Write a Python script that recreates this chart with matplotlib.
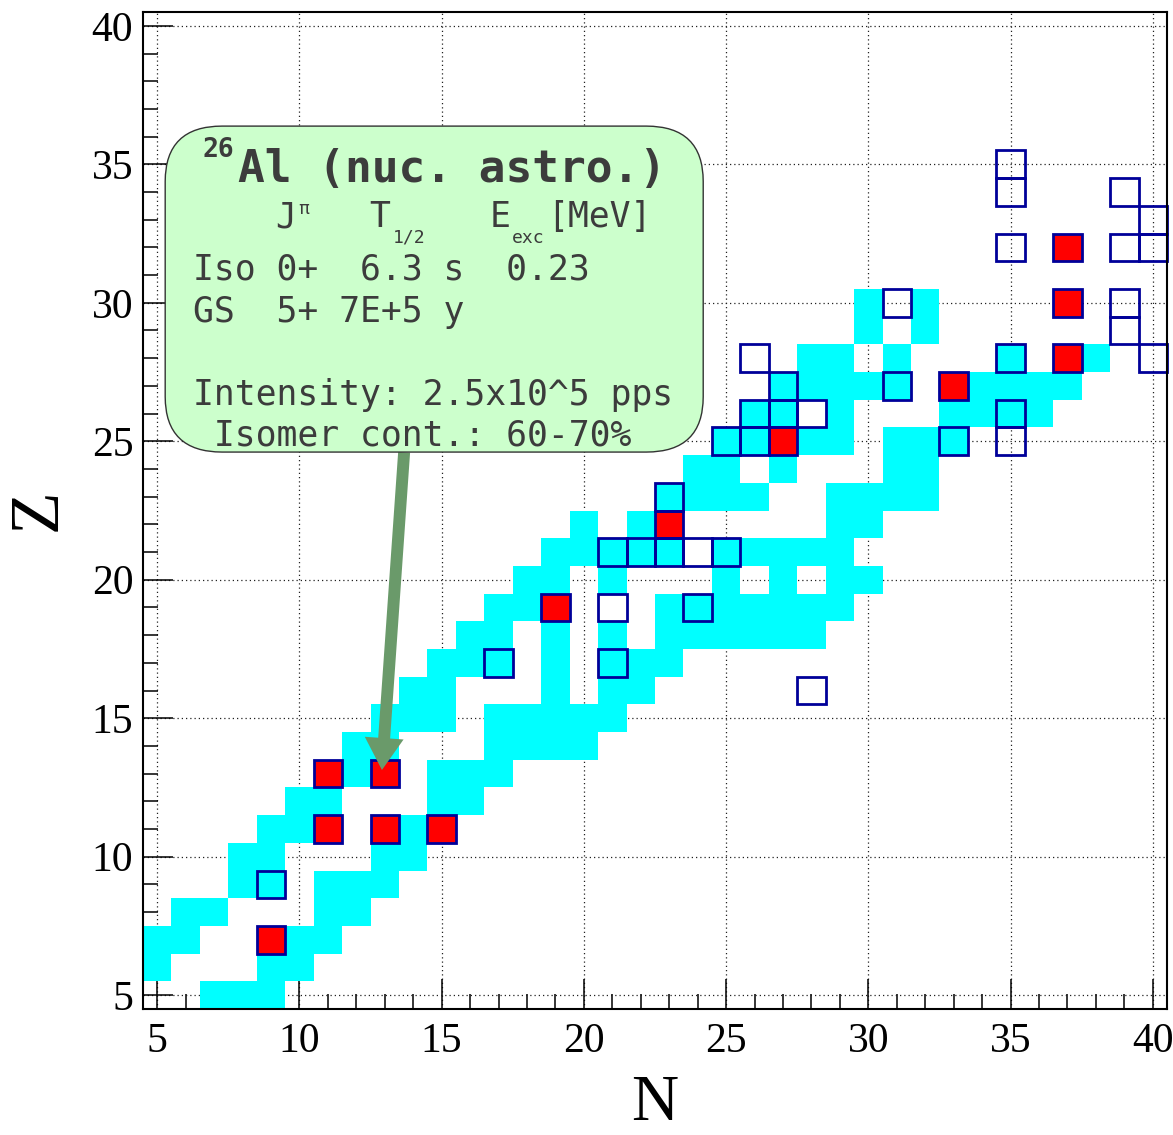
import matplotlib
matplotlib.use("Agg")
import matplotlib.pyplot as plt
import numpy as np
from matplotlib.patches import Rectangle, FancyBboxPatch, FancyArrowPatch, ArrowStyle
from matplotlib.colors import ListedColormap
from matplotlib.ticker import MultipleLocator

# Cyan cells of the chart: Z -> list of N
cyan_cells = {
    5:  [7, 8, 9],
    6:  [5, 9, 10],
    7:  [5, 6, 10, 11],
    8:  [6, 7, 11, 12],
    9:  [8, 9, 11, 12, 13],
    10: [8, 9, 13, 14],
    11: [9, 10, 14],
    12: [10, 11, 15, 16],
    13: [12, 15, 16, 17],
    14: [12, 13, 17, 18, 19, 20],
    15: [13, 14, 15, 17, 18, 19, 20, 21],
    16: [14, 15, 19, 21, 22],
    17: [15, 16, 17, 19, 21, 22, 23],
    18: [16, 17, 19, 21, 23, 24, 25, 26, 27, 28],
    19: [17, 18, 23, 24, 25, 26, 27, 28, 29],
    20: [18, 19, 21, 25, 27, 29, 30],
    21: [19, 20, 21, 22, 23, 25, 26, 27, 28, 29],
    22: [20, 22, 29, 30],
    23: [23, 24, 25, 26, 29, 30, 31, 32],
    24: [24, 25, 27, 31, 32],
    25: [25, 26, 28, 29, 31, 32, 33],
    26: [26, 27, 29, 33, 34, 35, 36],
    27: [27, 28, 29, 30, 31, 34, 35, 36, 37],
    28: [28, 29, 31, 35, 38],
    29: [30, 32],
    30: [30, 32],
}

# Red (filled) cells
red_N = [9, 11, 13, 15, 11, 13, 19, 23, 27, 33, 37, 37, 37]
red_Z = [7, 11, 11, 11, 13, 13, 19, 22, 25, 27, 28, 30, 32]

# Cells with a dark blue frame (besides the red ones)
outline_N = [9, 17, 21, 24, 21, 22, 23, 25, 23, 25, 26, 26, 27, 27, 31, 33, 35, 35,
             21, 24, 28, 28, 26, 31, 35, 35, 35, 35, 39, 40, 39, 40, 39, 39, 40]
outline_Z = [9, 17, 17, 19, 21, 21, 21, 21, 23, 25, 25, 26, 26, 27, 27, 25, 28, 26,
             19, 21, 16, 26, 28, 30, 32, 34, 35, 25, 34, 33, 32, 32, 30, 29, 28]

n_min, n_max = 5, 40
z_min, z_max = 5, 40

box_title = "Al (nuc. astro.)"
box_lines = ["Iso 0+  6.3 s  0.23",
             "GS  5+ 7E+5 y",
             "Intensity: 2.5x10^5 pps",
             " Isomer cont.: 60-70%"]

W, H = 1173, 1135
fig = plt.figure(figsize=(W / 100, H / 100), dpi=100)
ax = fig.add_axes([143 / W, 1 - 1009 / H, 1024 / W, 997 / H])


def px(x, y):
    # pixel position of the picture -> figure fraction
    return x / W, 1 - y / H


# grid of cell states
grid = np.zeros((z_max - z_min + 1, n_max - n_min + 1))
for z, ns in cyan_cells.items():
    for n in ns:
        grid[z - z_min, n - n_min] = 1
for n, z in zip(red_N, red_Z):
    grid[z - z_min, n - n_min] = 2
grid = np.ma.masked_equal(grid, 0)

n_edges = np.arange(n_min - 0.5, n_max + 1.0, 1)
z_edges = np.arange(z_min - 0.5, z_max + 1.0, 1)
ax.pcolormesh(n_edges, z_edges, grid, cmap=ListedColormap(['#00ffff', '#ff0000']),
              vmin=0.5, vmax=2.5, zorder=1)

for n, z in list(zip(outline_N, outline_Z)) + list(zip(red_N, red_Z)):
    ax.add_patch(Rectangle((n - 0.5, z - 0.5), 1, 1, fill=False, ec='#000099',
                           lw=2.0, zorder=2, clip_on=False))

ax.set_xlim(n_min - 0.5, n_max + 0.5)
ax.set_ylim(z_min - 0.5, z_max + 0.5)

serif = 'Liberation Serif'
ax.xaxis.set_major_locator(MultipleLocator(5))
ax.yaxis.set_major_locator(MultipleLocator(5))
ax.xaxis.set_minor_locator(MultipleLocator(1))
ax.yaxis.set_minor_locator(MultipleLocator(1))
ax.tick_params(which='major', direction='in', length=21.5, width=1.1, pad=7)
ax.tick_params(which='minor', direction='in', length=10.8, width=1.1)
ax.tick_params(axis='x', which='major', pad=10)
for lab in ax.get_xticklabels() + ax.get_yticklabels():
    lab.set_fontfamily(serif)
    lab.set_fontsize(30)
ax.grid(True, which='major', color='#222222', lw=0.9, linestyle=(0, (1, 2.4)))
ax.set_axisbelow(True)
for sp in ax.spines.values():
    sp.set_linewidth(1.5)

ax.set_xlabel('N', fontfamily=serif, fontsize=47)
ax.xaxis.set_label_coords(0.5, (1009 - 1120) / 997)
ax.xaxis.label.set_va('baseline')
ax.set_ylabel('Z', fontfamily=serif, fontsize=50)
ax.yaxis.set_label_coords((39 - 143) / 1024, (1009 - 510) / 997)
ax.yaxis.label.set_va('center')

# arrow pointing to 26Al
arrow = FancyArrowPatch((13.68, 24.6), (12.90, 13.13),
                        arrowstyle=ArrowStyle.Simple(head_length=23, head_width=28, tail_width=8.6),
                        mutation_scale=1, shrinkA=0, shrinkB=0,
                        color='#6a9a6a', lw=0, zorder=3)
ax.add_patch(arrow)

# info box
box = FancyBboxPatch((5.28, 24.61), 24.195 - 5.28, 36.38 - 24.61,
                     boxstyle='round,pad=0,rounding_size=2',
                     fc='#ccffcc', ec='#333333', lw=1.0, zorder=4)
ax.add_patch(box)

mono = 'DejaVu Sans Mono'
tc = '#3c3c3c'
body = 25
fig.text(*px(203, 157), '26', family=mono, weight='bold', fontsize=19, color=tc, zorder=5)
fig.text(*px(238, 182), box_title, family=mono, weight='bold', fontsize=32, color=tc, zorder=5)

fig.text(*px(275, 227), 'J', family=mono, fontsize=body, color=tc, zorder=5)
fig.text(*px(298, 214), '\u03c0', family=mono, fontsize=13, color=tc, zorder=5)
fig.text(*px(369, 227), 'T', family=mono, fontsize=body, color=tc, zorder=5)
fig.text(*px(393, 243), '1/2', family=mono, fontsize=13, color=tc, zorder=5)
fig.text(*px(490, 227), 'E', family=mono, fontsize=body, color=tc, zorder=5)
fig.text(*px(512, 243), 'exc', family=mono, fontsize=13, color=tc, zorder=5)
fig.text(*px(547, 227), '[MeV]', family=mono, fontsize=body, color=tc, zorder=5)

for line, base in zip(box_lines, [280, 322, 405, 446]):
    fig.text(*px(193, base), line, family=mono, fontsize=body, color=tc, zorder=5)

fig.savefig('out.png', dpi=100)
